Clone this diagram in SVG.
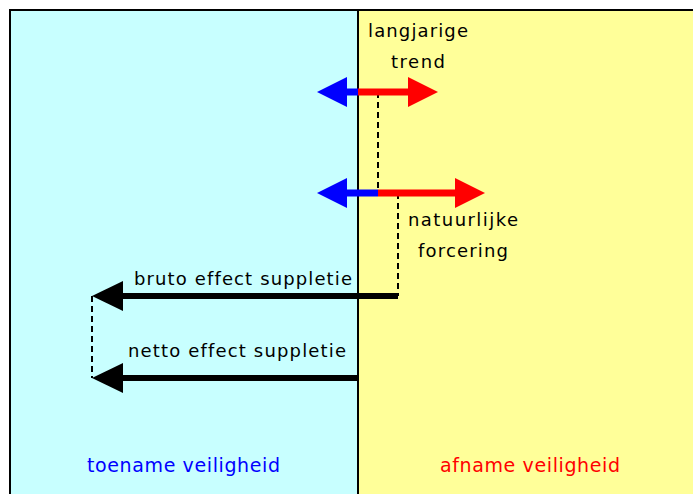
<svg xmlns="http://www.w3.org/2000/svg" width="693" height="494" viewBox="0 0 693 494">
<style>
text{font-family:"DejaVu Sans","Verdana",sans-serif;font-size:18px;fill:#000;font-variant-ligatures:none}
.big{font-size:19px}
.dash{stroke:#000;stroke-width:2;stroke-dasharray:6,4;fill:none}
</style>
<g id="panels">
<rect x="10" y="10" width="348" height="490" fill="#c8ffff" stroke="#000" stroke-width="2"/>
<rect x="358" y="10" width="340" height="490" fill="#ffff99" stroke="#000" stroke-width="2"/>
</g>
<g id="connectors">
<line class="dash" x1="378" y1="92" x2="378" y2="193"/>
<line class="dash" x1="398" y1="193" x2="398" y2="296"/>
<line class="dash" x1="92" y1="296" x2="92" y2="378"/>
</g>
<g id="trend-arrow">
<line x1="358" y1="92" x2="345" y2="92" stroke="#00f" stroke-width="7"/>
<polygon points="317,92 347,77 347,107" fill="#00f"/>
<line x1="358" y1="92" x2="410" y2="92" stroke="#f00" stroke-width="7"/>
<polygon points="438,92 408,77 408,107" fill="#f00"/>
</g>
<g id="forcing-arrow">
<line x1="378" y1="193" x2="345" y2="193" stroke="#00f" stroke-width="7"/>
<polygon points="317,193 347,178 347,208" fill="#00f"/>
<line x1="378" y1="193" x2="457" y2="193" stroke="#f00" stroke-width="7"/>
<polygon points="485,193 455,178 455,208" fill="#f00"/>
</g>
<g id="bruto-arrow">
<polyline points="398,296 120,296" stroke="#000" stroke-width="6" fill="none"/>
<polygon points="92,296 123,281 123,311" fill="#000"/>
</g>
<g id="netto-arrow">
<polyline points="358,378 120,378" stroke="#000" stroke-width="6" fill="none"/>
<polygon points="92,378 123,363 123,393" fill="#000"/>
</g>
<g id="labels">
<text x="368" y="37" textLength="100" lengthAdjust="spacing">langjarige</text>
<text x="391" y="68" textLength="54" lengthAdjust="spacing">trend</text>
<text x="408" y="226" textLength="110" lengthAdjust="spacing">natuurlijke</text>
<text x="418" y="257" textLength="90" lengthAdjust="spacing">forcering</text>
<text x="134" y="285" textLength="218" lengthAdjust="spacing">bruto effect suppletie</text>
<text x="128" y="357" textLength="218" lengthAdjust="spacing">netto effect suppletie</text>
<text class="big" x="87" y="472" textLength="193" lengthAdjust="spacing" style="fill:#00f">toename veiligheid</text>
<text class="big" x="440" y="472" textLength="180" lengthAdjust="spacing" style="fill:#f00">afname veiligheid</text>
</g>
</svg>
